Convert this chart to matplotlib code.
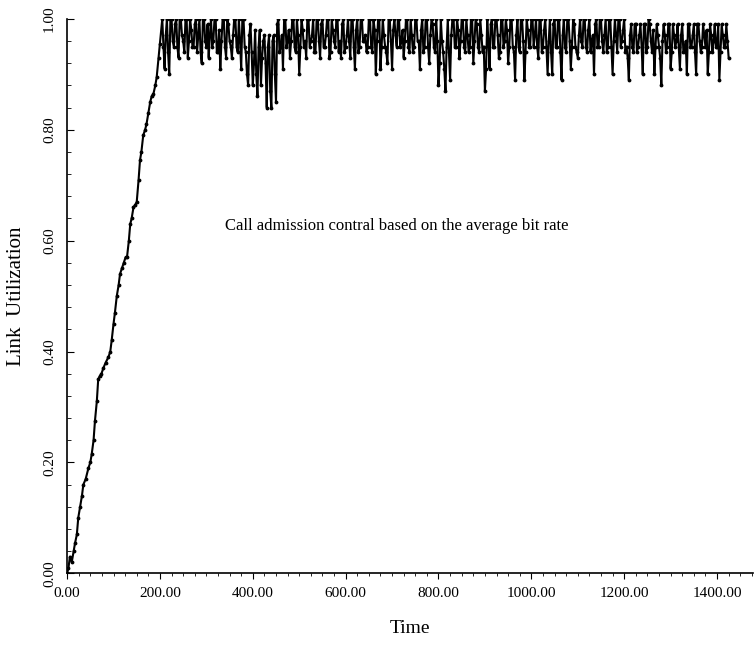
import numpy as np
import matplotlib
matplotlib.use('Agg')
import matplotlib.pyplot as plt
from matplotlib.ticker import MultipleLocator, FormatStrFormatter

plt.rcParams['font.family'] = ['Liberation Serif', 'DejaVu Serif']

# start-up ramp (time, utilization)
ramp_t = [0, 3, 6, 10, 14, 17, 21, 24, 28, 32, 35, 40, 46, 50, 53, 57, 60, 64, 67, 70,
          74, 78, 83, 89, 93, 96, 100, 103, 107, 111, 114, 118, 122, 126, 129, 133, 136, 139, 143, 147,
          150, 154, 157, 160, 164, 168, 171, 175, 179, 182, 186, 190, 193, 197, 200]
ramp_u = [0.00, 0.01, 0.03, 0.02, 0.04, 0.054, 0.07, 0.10, 0.12, 0.14,
          0.16, 0.17, 0.19, 0.20, 0.215, 0.24, 0.275, 0.31, 0.35, 0.355,
          0.36, 0.37, 0.38, 0.39, 0.40, 0.42, 0.45, 0.47, 0.50, 0.52,
          0.54, 0.55, 0.56, 0.57, 0.57, 0.60, 0.63, 0.64, 0.66, 0.665,
          0.67, 0.71, 0.745, 0.76, 0.79, 0.80, 0.81, 0.83, 0.85, 0.86,
          0.865, 0.88, 0.895, 0.93, 0.955]

# steady state, sampled every 5 time units from t=205 (utilization in %)
plateau_start = 205
plateau_step = 5
plateau_pct = [
    100, 91, 100, 90, 100, 95, 100, 93, 100, 96, 100, 93, 100, 95, 99, 94, 100, 92, 100, 95,
    93, 100, 96, 100, 94, 91, 100, 95, 100, 96, 93, 100, 95, 100, 91, 100, 94, 88, 99, 88,
    98, 86, 98, 93, 97, 84, 97, 84, 97, 85, 100, 95, 91, 100, 96, 93, 100, 95, 100, 90,
    100, 95, 93, 100, 96, 100, 94, 100, 93, 100, 95, 100, 93, 100, 96, 100, 94, 93, 100, 95,
    100, 93, 100, 91, 100, 95, 100, 96, 94, 100, 95, 100, 90, 100, 91, 100, 95, 92, 100, 91,
    100, 95, 100, 96, 93, 100, 95, 100, 94, 100, 96, 91, 100, 95, 100, 92, 100, 95, 100, 88,
    100, 94, 87, 100, 89, 100, 95, 100, 93, 100, 95, 100, 94, 100, 92, 100, 95, 100, 94, 87,
    100, 91, 100, 95, 100, 93, 100, 95, 100, 92, 100, 95, 89, 100, 94, 100, 89, 100, 95, 100,
    95, 100, 93, 100, 95, 100, 90, 100, 90, 100, 95, 100, 89, 100, 94, 100, 91, 100, 95, 93,
    100, 95, 100, 94, 100, 96, 90, 100, 95, 100, 94, 100, 95, 100, 90, 100, 94, 100, 96, 100,
    95, 89, 99, 94, 99, 95, 99, 90, 99, 95, 99, 94, 90, 99, 95, 88, 99, 94, 99, 91,
    99, 95, 99, 91, 99, 94, 90, 99, 95, 99, 90, 99, 94, 99, 95, 90, 99, 94, 99, 95,
    89, 99, 95, 99, 93,
]

# intermediate samples, half a step later (t=207.5, 212.5, ...)
mid_pct = [
    95, 97, 94, 100, 96, 99, 95, 100, 97, 94, 100, 96, 98, 95, 100, 97, 94, 100, 96, 99,
    97, 95, 100, 94, 98, 96, 100, 93, 99, 95, 97, 100, 94, 96, 100, 95, 90, 97, 94, 92,
    90, 95, 88, 96, 92, 95, 87, 96, 90, 99, 94, 97, 100, 95, 98, 96, 100, 94, 97, 95,
    98, 96, 100, 95, 97, 94, 100, 96, 99, 95, 97, 100, 94, 98, 95, 100, 96, 99, 94, 97,
    96, 100, 95, 98, 94, 100, 96, 97, 95, 100, 94, 98, 96, 100, 95, 97, 94, 100, 96, 98,
    97, 100, 95, 98, 96, 100, 94, 97, 95, 100, 96, 98, 94, 100, 95, 97, 99, 94, 96, 92,
    96, 91, 95, 94, 97, 100, 95, 98, 96, 100, 94, 97, 95, 100, 96, 99, 94, 97, 95, 91,
    96, 99, 95, 100, 97, 94, 100, 96, 98, 95, 100, 94, 97, 95, 100, 96, 94, 98, 95, 100,
    97, 95, 100, 94, 98, 95, 96, 94, 99, 95, 100, 94, 97, 95, 100, 96, 95, 99, 94, 97,
    96, 100, 95, 98, 94, 97, 99, 95, 100, 96, 97, 94, 100, 95, 96, 97, 100, 95, 98, 94,
    93, 97, 95, 99, 94, 97, 95, 99, 94, 100, 96, 98, 95, 97, 93, 96, 97, 95, 99, 94,
    97, 96, 95, 97, 94, 96, 99, 95, 97, 94, 99, 96, 95, 97, 98, 94, 97, 96, 95, 99,
    94, 97, 95, 96,
]

x_ticks = [0, 200, 400, 600, 800, 1000, 1200, 1400]
y_ticks = [0.0, 0.2, 0.4, 0.6, 0.8, 1.0]

plateau_t = plateau_start + plateau_step * np.arange(len(plateau_pct))
mid_t = plateau_start + plateau_step / 2 + plateau_step * np.arange(len(mid_pct))
steady_t = np.concatenate([plateau_t, mid_t])
steady_u = np.concatenate([plateau_pct, mid_pct]) / 100.0
order = np.argsort(steady_t)

t = np.concatenate([ramp_t, steady_t[order]])
u = np.concatenate([ramp_u, steady_u[order]])

fig = plt.figure(figsize=(7.54, 6.5), dpi=100)
ax = fig.add_axes([0.089, 0.118, 0.91, 0.853])

ax.plot(t, u, color='black', lw=1.5, marker='.', ms=3.5)

ax.set_xlim(0, 1478)
ax.set_ylim(0, 1.0)
ax.set_xticks(x_ticks)
ax.set_yticks(y_ticks)
ax.xaxis.set_minor_locator(MultipleLocator(25))
ax.yaxis.set_minor_locator(MultipleLocator(0.04))
ax.xaxis.set_major_formatter(FormatStrFormatter('%.2f'))
ax.yaxis.set_major_formatter(FormatStrFormatter('%.2f'))
ax.tick_params(axis='x', which='major', direction='out', length=4, labelsize=11, pad=6)
ax.tick_params(axis='x', which='minor', direction='out', length=2.5)
ax.tick_params(axis='y', which='major', direction='in', length=5, labelsize=11, pad=8)
ax.tick_params(axis='y', which='minor', direction='in', length=3)
for lbl in ax.get_yticklabels():
    lbl.set_rotation(90)
    lbl.set_va('center')

for s in ['top', 'right']:
    ax.spines[s].set_visible(False)
for s in ['left', 'bottom']:
    ax.spines[s].set_linewidth(1.2)

ax.set_xlabel('Time', fontsize=14, labelpad=14)
ax.set_ylabel('Link  Utilization', fontsize=15, labelpad=12)

ax.text(340, 0.627, 'Call admission contral based on the average bit rate',
        fontsize=12, va='center', ha='left')

fig.savefig('out.png', dpi=100)
